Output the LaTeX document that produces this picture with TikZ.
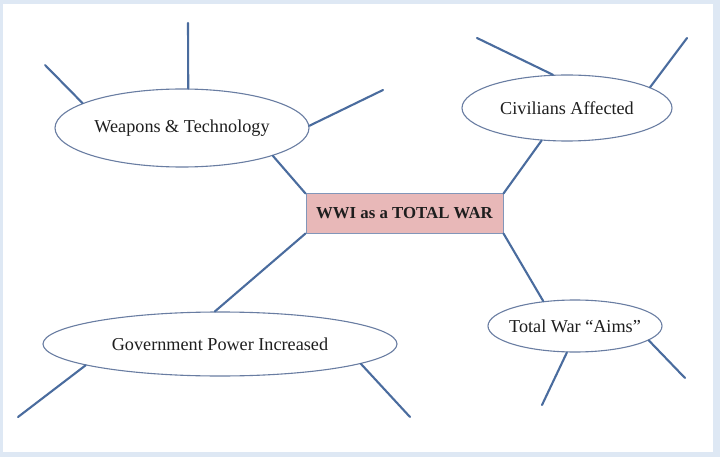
\documentclass[tikz,border=0pt]{standalone}
\usepackage{fontspec}
\setmainfont{Liberation Serif}
\usetikzlibrary{shapes.geometric}
\definecolor{frameblue}{RGB}{222,232,244}
\definecolor{spoke}{RGB}{74,108,158}
\definecolor{ellline}{RGB}{105,125,162}
\definecolor{pinkfill}{RGB}{232,184,184}
\definecolor{rectline}{RGB}{130,150,185}
\definecolor{txt}{RGB}{30,30,30}
\tikzset{
  topic/.style={ellipse, draw=ellline, line width=1.1pt, fill=white, inner sep=0pt,
    text=txt, font=\fontsize{18.2}{21}\selectfont},
  hub/.style={rectangle, draw=rectline, line width=1pt, fill=pinkfill, inner sep=0pt,
    text=txt, font=\bfseries\fontsize{16.8}{20}\selectfont},
  spokeline/.style={draw=spoke, line width=2.1pt, line cap=round}
}
\begin{document}
\begin{tikzpicture}[x=1pt,y=-1pt]
\useasboundingbox (0,0) rectangle (720,457);
\fill[frameblue] (0,0) rectangle (720,457);
\fill[white] (3,4) rectangle (713,452);

% free ends
\coordinate (wtop) at (188,23);
\coordinate (wleft) at (45,65);
\coordinate (wright) at (383,90);
\coordinate (cul) at (477,38);
\coordinate (cur) at (687,38);
\coordinate (abl) at (542,405);
\coordinate (ar) at (685,378);
\coordinate (gll) at (18,417);
\coordinate (glr) at (410,417);

\node[hub, minimum width=197pt, minimum height=39pt] (hub) at (404.5,213.5) {WWI as a TOTAL WAR};
\node[topic, minimum width=254pt, minimum height=78pt] (weap) at (182,128) {\makebox[0pt][c]{Weapons \& Technology}};
\node[topic, minimum width=210pt, minimum height=66pt] (civ) at (567,108) {\makebox[0pt][c]{Civilians Affected}};
\node[topic, minimum width=174pt, minimum height=52pt] (aims) at (575,326) {\makebox[0pt][c]{Total War “Aims”}};
\node[topic, minimum width=354pt, minimum height=64pt] (gov) at (220,344) {\makebox[0pt][c]{Government Power Increased}};

\draw[spokeline] (weap.81) -- (wtop);
\draw[spokeline] (weap.166) -- (wleft);
\draw[spokeline] (weap.1) -- (wright);
\draw[spokeline] (weap.-17) -- (hub.north west);
\draw[spokeline] (civ.113) -- (cul);
\draw[spokeline] (civ.14) -- (cur);
\draw[spokeline] (civ.-128) -- (hub.north east);
\draw[spokeline] (aims.142) -- (hub.south east);
\draw[spokeline] (aims.253) -- (abl);
\draw[spokeline] (aims.-11) -- (ar);
\draw[spokeline] (gov.99) -- (hub.south west);
\draw[spokeline] (gov.189) -- (gll);
\draw[spokeline] (gov.-8.5) -- (glr);
\end{tikzpicture}
\end{document}
